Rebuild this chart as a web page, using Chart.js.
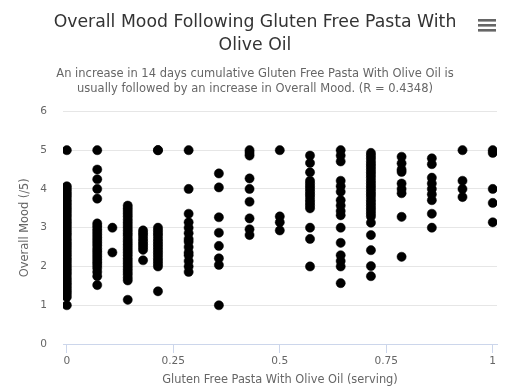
<!DOCTYPE html>
<html>
<head>
<meta charset="utf-8">
<script src="https://cdn.jsdelivr.net/npm/chart.js@4"></script>
<style>
  html, body { margin: 0; padding: 0; background: #ffffff; }
  #wrap { width: 524px; height: 392px; }
</style>
</head>
<body>
<div id="wrap"><canvas id="c" width="524" height="392"></canvas></div>
<script>
// ---- Data ----
const titleLines = ["Overall Mood Following Gluten Free Pasta With", "Olive Oil"];
const subtitleLines = [
  "An increase in 14 days cumulative Gluten Free Pasta With Olive Oil is",
  "usually followed by an increase in Overall Mood. (R = 0.4348)"
];
const xAxisTitle = "Gluten Free Pasta With Olive Oil (serving)";
const yAxisTitle = "Overall Mood (/5)";
const xTickValues = [0, 0.25, 0.5, 0.75, 1];
const xTickLabels = ["0", "0.25", "0.5", "0.75", "1"];
const yTickValues = [0, 1, 2, 3, 4, 5, 6];

// serving amounts (x) for each column of points
const servings = [0, 0.0714, 0.107, 0.143, 0.179, 0.214, 0.286, 0.357, 0.429, 0.5, 0.571, 0.643, 0.714, 0.786, 0.857, 0.929, 1];

// mood values (y) observed at each serving amount
const moodAt0 = [5, 4.07, 4, 3.93, 3.86, 3.79, 3.71, 3.64, 3.57, 3.5, 3.43, 3.36, 3.29, 3.21, 3.14, 3.07, 3, 2.93, 2.86, 2.79, 2.71, 2.64, 2.57, 2.5, 2.43, 2.36, 2.29, 2.21, 2.14, 2.07, 2, 1.93, 1.86, 1.79, 1.71, 1.64, 1.57, 1.5, 1.43, 1.36, 1.29, 1.21, 1];
const moodAt0071 = [5, 4.5, 4.25, 4, 3.75, 3.11, 3.04, 2.96, 2.89, 2.82, 2.75, 2.68, 2.61, 2.54, 2.46, 2.39, 2.32, 2.25, 2.18, 2.11, 2.04, 1.96, 1.86, 1.75, 1.52];
const moodAt0107 = [3, 2.36];
const moodAt0143 = [3.57, 3.5, 3.43, 3.36, 3.29, 3.21, 3.14, 3.07, 3, 2.93, 2.86, 2.79, 2.71, 2.64, 2.57, 2.5, 2.43, 2.36, 2.29, 2.21, 2.14, 2.07, 2, 1.93, 1.86, 1.79, 1.71, 1.64, 1.14];
const moodAt0179 = [2.93, 2.86, 2.79, 2.71, 2.64, 2.57, 2.5, 2.43, 2.16];
const moodAt0214 = [5, 5, 3, 2.93, 2.86, 2.79, 2.71, 2.64, 2.57, 2.5, 2.43, 2.36, 2.29, 2.21, 2.14, 2.07, 2, 1.36];
const moodAt0286 = [5, 4, 3.36, 3.14, 3, 2.86, 2.71, 2.64, 2.5, 2.36, 2.29, 2.14, 2, 1.86];
const moodAt0357 = [4.4, 4.04, 3.27, 2.87, 2.53, 2.21, 2.04, 1];
const moodAt0429 = [5, 4.93, 4.86, 4.27, 4, 3.67, 3.24, 2.96, 2.81];
const moodAt05 = [5, 3.29, 3.14, 2.93];
const moodAt0571 = [4.86, 4.67, 4.43, 4.21, 4.14, 4.07, 4, 3.93, 3.86, 3.79, 3.71, 3.64, 3.57, 3.5, 3, 2.71, 2];
const moodAt0643 = [5, 4.86, 4.71, 4.21, 4.07, 3.93, 3.71, 3.57, 3.43, 3.32, 3, 2.61, 2.29, 2.14, 2, 1.57];
const moodAt0714 = [4.93, 4.86, 4.79, 4.71, 4.64, 4.57, 4.5, 4.43, 4.36, 4.29, 4.21, 4.14, 4.07, 4, 3.93, 3.86, 3.79, 3.71, 3.64, 3.57, 3.5, 3.43, 3.36, 3.29, 3.13, 2.81, 2.42, 2.01, 1.75];
const moodAt0786 = [4.83, 4.66, 4.5, 4.44, 4.14, 4, 3.89, 3.28, 2.25];
const moodAt0857 = [4.79, 4.64, 4.29, 4.14, 4, 3.86, 3.71, 3.36, 3];
const moodAt0929 = [5, 4.21, 4, 3.79];
const moodAt1 = [5, 4.93, 4, 3.64, 3.14];

const moodColumns = [moodAt0, moodAt0071, moodAt0107, moodAt0143, moodAt0179, moodAt0214, moodAt0286, moodAt0357,
  moodAt0429, moodAt05, moodAt0571, moodAt0643, moodAt0714, moodAt0786, moodAt0857, moodAt0929, moodAt1];

const points = [];
servings.forEach((s, i) => moodColumns[i].forEach(m => points.push({ x: s, y: m })));

// ---- export-menu (hamburger) icon ----
const menuIcon = {
  id: 'menuIcon',
  afterDraw(chart) {
    const ctx = chart.ctx;
    ctx.save();
    ctx.fillStyle = '#666666';
    [19, 24, 29].forEach(y => ctx.fillRect(478, y, 18, 2.6));
    ctx.restore();
  }
};

const FONT = "'DejaVu Sans', sans-serif";

new Chart(document.getElementById('c'), {
  type: 'scatter',
  data: {
    datasets: [{
      data: points,
      backgroundColor: '#000000',
      borderColor: '#000000',
      borderWidth: 0.5,
      pointRadius: 4.6,
      pointHoverRadius: 4.6
    }]
  },
  plugins: [menuIcon],
  options: {
    responsive: false,
    animation: false,
    devicePixelRatio: 1,
    layout: { padding: { left: 13, right: 27, top: 0, bottom: 0 } },
    plugins: {
      legend: { display: false },
      tooltip: { enabled: false },
      title: {
        display: true,
        text: titleLines,
        color: '#333333',
        font: { family: FONT, size: 17.3, weight: 'normal', lineHeight: 1.272 },
        padding: { top: 12, bottom: 10.5 }
      },
      subtitle: {
        display: true,
        text: subtitleLines,
        color: '#666666',
        font: { family: FONT, size: 11.5, weight: 'normal', lineHeight: 1.3 },
        padding: { top: 0, bottom: 15 }
      }
    },
    scales: {
      x: {
        type: 'linear',
        min: -0.009,
        max: 1.01,
        afterBuildTicks: axis => { axis.ticks = xTickValues.map(v => ({ value: v })); },
        afterFit: axis => { axis.height = 48; },
        ticks: {
          color: '#666666',
          font: { family: FONT, size: 10.6 },
          padding: 2,
          maxRotation: 0,
          callback: (v) => xTickLabels[xTickValues.indexOf(v)]
        },
        grid: { drawOnChartArea: false, drawTicks: true, tickLength: 9, color: '#ccd6eb', tickWidth: 1 },
        border: { display: true, color: '#ccd6eb', width: 1 },
        title: {
          display: true,
          text: xAxisTitle,
          color: '#666666',
          font: { family: FONT, size: 11.4 },
          padding: { top: 4, bottom: 5.5 }
        }
      },
      y: {
        min: 0,
        max: 6,
        afterBuildTicks: axis => { axis.ticks = yTickValues.map(v => ({ value: v })); },
        afterFit: axis => { axis.width = 50; },
        ticks: {
          color: '#666666',
          font: { family: FONT, size: 10.6 },
          padding: 16,
          callback: v => String(v)
        },
        grid: { color: '#e6e6e6', drawTicks: false, lineWidth: 1 },
        border: { display: false },
        title: {
          display: true,
          text: yAxisTitle,
          color: '#666666',
          font: { family: FONT, size: 11.4 },
          padding: { top: 5.5, bottom: 0 }
        }
      }
    }
  }
});
</script>
</body>
</html>
